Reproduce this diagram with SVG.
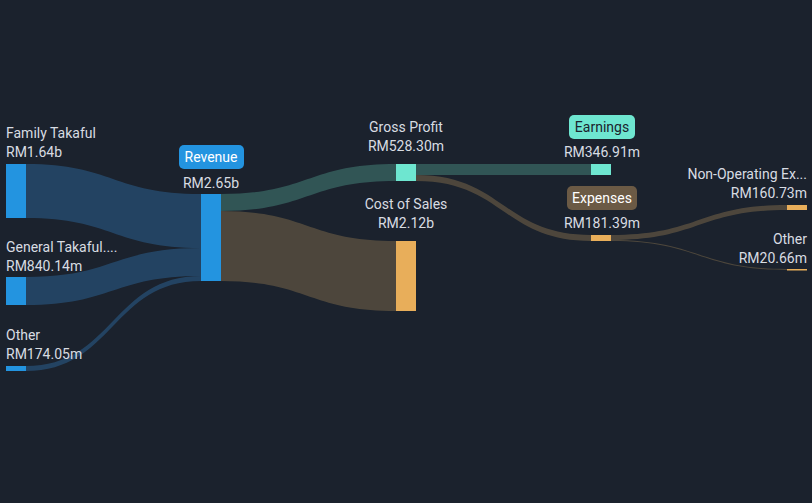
<svg xmlns="http://www.w3.org/2000/svg" width="812" height="503" viewBox="0 0 812 503">
<style>
text{font-family:"Roboto","Liberation Sans",sans-serif;font-size:14px;fill:#d8dce2}
.b{fill:#2394e0}.t{fill:#6ee6d0}.o{fill:#e8ae5a}
.lb{fill:#2a5a85;opacity:.6}.lt{fill:#3a6b66;opacity:.7}.lo{fill:#5a5040;opacity:.8}
</style>
<rect width="812" height="503" fill="#1b222d"/>
<g id="links">
<path class="lb" d="M26,164 C113,164 113,194 201,194 L201,248 C113,248 113,218 26,218Z"/>
<path class="lb" d="M26,277 C113,277 113,248 201,248 L201,276 C113,276 113,305 26,305Z"/>
<path class="lb" d="M26,366 C113,366 113,276 201,276 L201,281 C113,281 113,371 26,371Z"/>
<path class="lt" d="M221,194 C308,194 308,164 396,164 L396,181 C308,181 308,211 221,211Z"/>
<path class="lo" d="M221,211 C308,211 308,241 396,241 L396,311 C308,311 308,281 221,281Z"/>
<path class="lt" d="M416,164 L591,164 L591,175 L416,175Z"/>
<path class="lo" d="M416,175 C503,175 503,235 591,235 L591,241 C503,241 503,181 416,181Z"/>
<path class="lo" d="M611,235 C699,235 699,205 787,205 L787,210 C699,210 699,240 611,240Z"/>
<path class="lo" d="M611,240 C699,240 699,269 787,269 L787,270 C699,270 699,241 611,241Z"/>
</g>
<g id="family"><rect class="b" x="6" y="164" width="20" height="54"/><text x="6" y="138">Family Takaful</text><text x="6" y="157">RM1.64b</text></g>
<g id="general"><rect class="b" x="6" y="277" width="20" height="28"/><text x="6" y="252">General Takaful....</text><text x="6" y="271">RM840.14m</text></g>
<g id="other-in"><rect class="b" x="6" y="366" width="20" height="5"/><text x="6" y="340">Other</text><text x="6" y="359">RM174.05m</text></g>
<g id="revenue"><rect class="b" x="201" y="194" width="20" height="87"/><rect class="b" x="179" y="145" width="65" height="24" rx="5"/><text x="211" y="162" text-anchor="middle" style="fill:#fff">Revenue</text><text x="211" y="188" text-anchor="middle">RM2.65b</text></g>
<g id="gross"><rect class="t" x="396" y="164" width="20" height="17"/><text x="406" y="132" text-anchor="middle">Gross Profit</text><text x="406" y="151" text-anchor="middle">RM528.30m</text></g>
<g id="cost"><rect class="o" x="396" y="241" width="20" height="70"/><text x="406" y="209" text-anchor="middle">Cost of Sales</text><text x="406" y="228" text-anchor="middle">RM2.12b</text></g>
<g id="earnings"><rect class="t" x="591" y="164" width="20" height="11"/><rect class="t" x="569" y="115" width="66" height="24" rx="5"/><text x="602" y="132" text-anchor="middle" style="fill:#1b222d">Earnings</text><text x="602" y="157" text-anchor="middle">RM346.91m</text></g>
<g id="expenses"><rect class="o" x="591" y="235" width="20" height="6"/><rect x="567" y="186" width="70" height="24" rx="5" fill="#6b5a45"/><text x="602" y="203" text-anchor="middle" style="fill:#fff">Expenses</text><text x="602" y="228" text-anchor="middle">RM181.39m</text></g>
<g id="nonop"><rect class="o" x="787" y="205" width="20" height="5"/><text x="807" y="179" text-anchor="end">Non-Operating Ex...</text><text x="807" y="198" text-anchor="end">RM160.73m</text></g>
<g id="other-out"><rect class="o" x="787" y="269" width="20" height="1.5"/><text x="807" y="244" text-anchor="end">Other</text><text x="807" y="263" text-anchor="end">RM20.66m</text></g>
</svg>
